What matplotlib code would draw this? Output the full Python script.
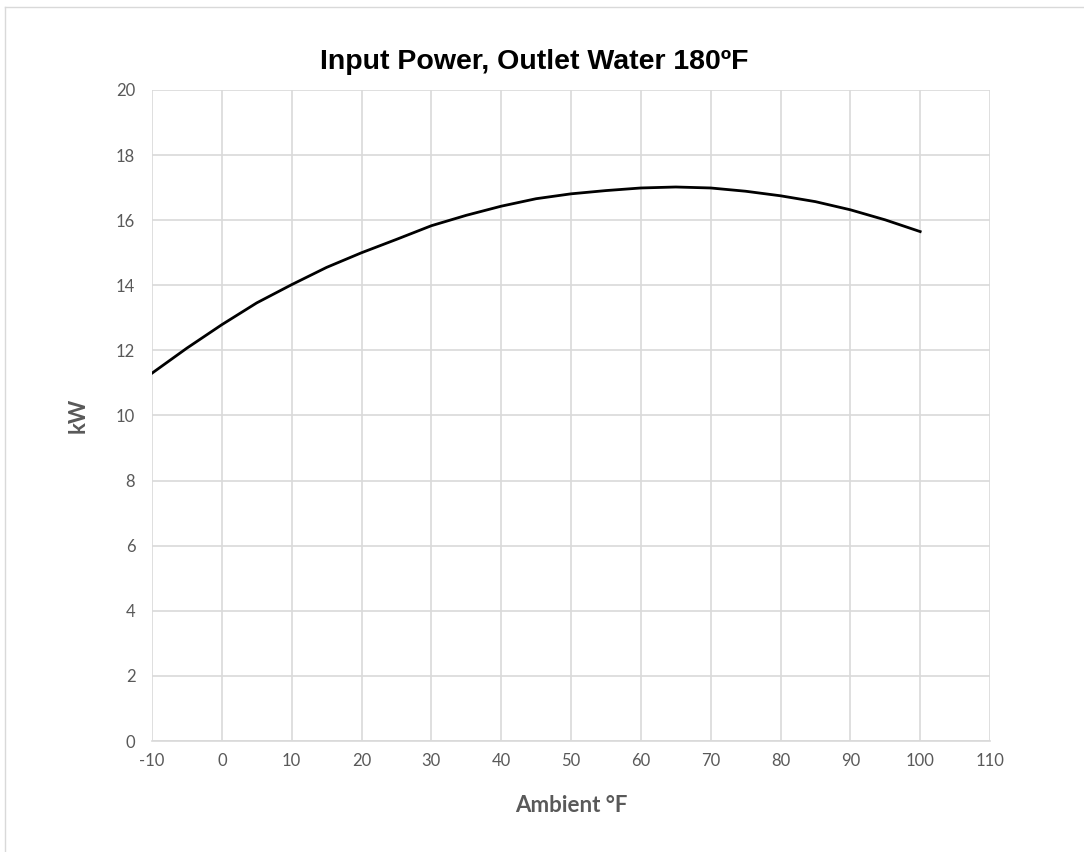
import matplotlib
matplotlib.use("Agg")
import matplotlib.pyplot as plt
from matplotlib.lines import Line2D

# Values (every 5 °F)
ambient_f = [-10, -5, 0, 5, 10, 15, 20, 25, 30, 35, 40, 45, 50, 55, 60, 65,
             70, 75, 80, 85, 90, 95, 100]
power_kw = [11.30, 12.07, 12.79, 13.46, 14.02, 14.55, 15.0, 15.41, 15.83, 16.15,
            16.43, 16.66, 16.81, 16.91, 16.99, 17.02, 16.99, 16.89, 16.75, 16.57,
            16.32, 16.01, 15.65]

x_ticks = list(range(-10, 111, 10))
y_ticks = list(range(0, 21, 2))

grey = "#595959"
grid_c = "#d9d9d9"

fig = plt.figure(figsize=(10.84, 8.52), dpi=100)
ax = fig.add_axes([152 / 1084, 1 - 741 / 852, 838 / 1084, 651 / 852])

ax.plot(ambient_f, power_kw, color="black", linewidth=2.0, solid_joinstyle="round")

ax.set_xlim(-10, 110)
ax.set_ylim(0, 20)
ax.set_xticks(x_ticks)
ax.set_yticks(y_ticks)
ax.set_xticklabels([str(v) for v in x_ticks], fontfamily="Lato", fontsize=12, color=grey)
ax.set_yticklabels([str(v) for v in y_ticks], fontfamily="Lato", fontsize=12, color=grey)
ax.tick_params(length=0, pad=9)
ax.tick_params(axis="y", pad=12)
ax.grid(True, color=grid_c, linewidth=1.2)
ax.set_axisbelow(True)
for s in ["top", "right", "left"]:
    ax.spines[s].set_visible(False)
ax.spines["bottom"].set_color(grid_c)
ax.spines["bottom"].set_linewidth(1.2)

ax.set_xlabel("Ambient °F", fontfamily="Lato", fontweight="bold", fontsize=16, color=grey, labelpad=18)
ax.set_ylabel("kW", fontfamily="Lato", fontweight="bold", fontsize=16, color=grey, labelpad=20)

fig.text(534 / 1084, 1 - 62 / 852, "Input Power, Outlet Water 180ºF",
         ha="center", va="center", fontsize=20.5, fontweight="bold",
         fontfamily="Liberation Sans", color="black")

# light outer chart border
fig.add_artist(Line2D([5 / 1084, 1], [1 - 7 / 852, 1 - 7 / 852], transform=fig.transFigure, color=grid_c, linewidth=1))
fig.add_artist(Line2D([5 / 1084, 5 / 1084], [0, 1 - 7 / 852], transform=fig.transFigure, color=grid_c, linewidth=1))

fig.savefig("out.png", dpi=100)
